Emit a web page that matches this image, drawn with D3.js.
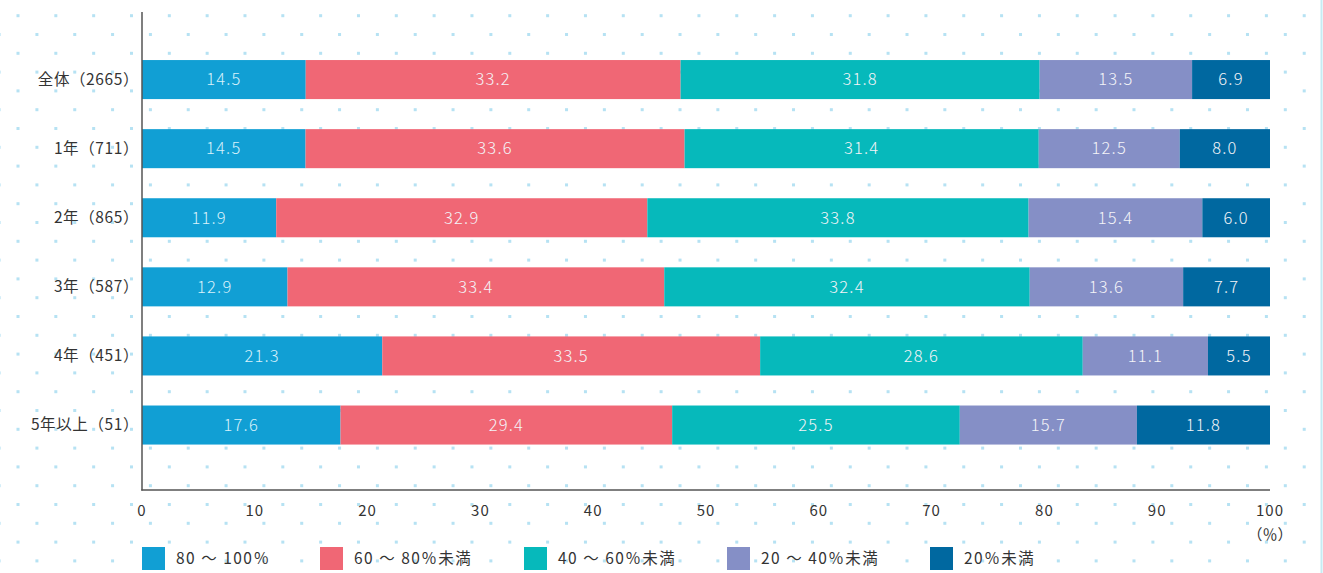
<!DOCTYPE html>
<html>
<head>
<meta charset="utf-8">
<script src="https://cdn.jsdelivr.net/npm/d3@7"></script>
<style>
  body { margin: 0; background: #fff; }
  text { font-family: "Noto Sans CJK JP", "Noto Sans", sans-serif; }
</style>
</head>
<body>
<script>
// chart size
const w = 1323;
const h = 573;

// data
const categories = ["全体（2665）", "1年（711）", "2年（865）", "3年（587）", "4年（451）", "5年以上（51）"];
const seriesNames = ["80 ～ 100％", "60 ～ 80％未満", "40 ～ 60％未満", "20 ～ 40％未満", "20％未満"];
const s80to100 = [14.5, 14.5, 11.9, 12.9, 21.3, 17.6];
const s60to80 = [33.2, 33.6, 32.9, 33.4, 33.5, 29.4];
const s40to60 = [31.8, 31.4, 33.8, 32.4, 28.6, 25.5];
const s20to40 = [13.5, 12.5, 15.4, 13.6, 11.1, 15.7];
const sUnder20 = [6.9, 8.0, 6.0, 7.7, 5.5, 11.8];
const xTicks = [0, 10, 20, 30, 40, 50, 60, 70, 80, 90, 100];

const seriesValues = [s80to100, s60to80, s40to60, s20to40, sUnder20];
const colors = ["#119fd4", "#f06775", "#06b9bb", "#858fc6", "#0068a0"];

const svg = d3.select("body").append("svg").attr("width", w).attr("height", h);

// dotted background
const dotG = svg.append("g");
const rowStep = 18.8, colStep = 37.83;
for (let r = 0; r * rowStep + 15.7 < h; r++) {
  const y = 15.7 + r * rowStep;
  const off = r % 2 === 0 ? 18 : 18 + colStep / 2;
  for (let x = off - colStep; x < w; x += colStep) {
    if (x < -2) continue;
    dotG.append("rect")
      .attr("x", x - 1.5).attr("y", y - 1.5)
      .attr("width", 3).attr("height", 3)
      .attr("fill", "#b6e2f3");
  }
}
svg.append("line").attr("x1", 1321.5).attr("x2", 1321.5).attr("y1", 0).attr("y2", h)
  .attr("stroke", "#c5ecf3").attr("stroke-width", 2);

// scales
const x = d3.scaleLinear().domain([0, 100]).range([142, 1270]);
const y = d3.scaleBand().domain(categories).range([25.5, 479.1]).paddingInner(0.435).paddingOuter(0.5);

// stacked rows, normalised to 100
const rows = categories.map((c, i) => {
  const vals = seriesValues.map(s => s[i]);
  const total = d3.sum(vals);
  let acc = 0;
  return vals.map((v, j) => {
    const seg = { cat: c, v: v, j: j, x0: acc / total * 100, x1: (acc + v) / total * 100 };
    acc += v;
    return seg;
  });
});
const segs = rows.flat();

svg.append("g").selectAll("rect")
  .data(segs)
  .enter()
  .append("rect")
  .attr("x", d => x(d.x0))
  .attr("y", d => y(d.cat))
  .attr("width", d => x(d.x1) - x(d.x0))
  .attr("height", y.bandwidth())
  .attr("fill", d => colors[d.j]);

svg.append("g").selectAll("text")
  .data(segs)
  .enter()
  .append("text")
  .attr("x", d => (x(d.x0) + x(d.x1)) / 2)
  .attr("y", d => y(d.cat) + y.bandwidth() / 2)
  .attr("dy", "0.35em")
  .attr("text-anchor", "middle")
  .attr("font-size", 16.5)
  .attr("font-weight", 300)
  .attr("letter-spacing", 1.2)
  .attr("fill", d => d.j === 0 ? "#d8f1fb" : "#f4f4f8")
  .text(d => d.v.toFixed(1));

// category labels
svg.append("g").selectAll("text")
  .data(categories)
  .enter()
  .append("text")
  .attr("x", 139)
  .attr("y", d => y(d) + y.bandwidth() / 2)
  .attr("dy", "0.35em")
  .attr("text-anchor", "end")
  .attr("font-size", 15.5)
  .attr("letter-spacing", 0.6)
  .attr("fill", "#333")
  .text(d => d);

// axes lines
svg.append("line").attr("x1", 142).attr("x2", 142).attr("y1", 12).attr("y2", 490.5)
  .attr("stroke", "#555").attr("stroke-width", 1.5);
svg.append("line").attr("x1", 141.25).attr("x2", 1270).attr("y1", 490).attr("y2", 490)
  .attr("stroke", "#555").attr("stroke-width", 1.5);

// x tick labels
svg.append("g").selectAll("text")
  .data(xTicks)
  .enter()
  .append("text")
  .attr("x", d => x(d))
  .attr("y", 516)
  .attr("text-anchor", "middle")
  .attr("font-size", 15)
  .attr("letter-spacing", 1)
  .attr("fill", "#333")
  .text(d => d);
svg.append("text").attr("x", x(100)).attr("y", 540).attr("text-anchor", "middle")
  .attr("font-size", 15).attr("fill", "#333").text("（％）");

// legend
const legendX = [142, 320, 524, 727, 930];
const lg = svg.append("g").selectAll("g")
  .data(seriesNames)
  .enter()
  .append("g")
  .attr("transform", (d, i) => "translate(" + legendX[i] + ",547)");
lg.append("rect").attr("width", 23).attr("height", 23).attr("fill", (d, i) => colors[i]);
lg.append("text").attr("x", 34).attr("y", 12).attr("dy", "0.35em")
  .attr("font-size", 15.5).attr("letter-spacing", 1.5).attr("fill", "#333").text(d => d);
</script>
</body>
</html>
